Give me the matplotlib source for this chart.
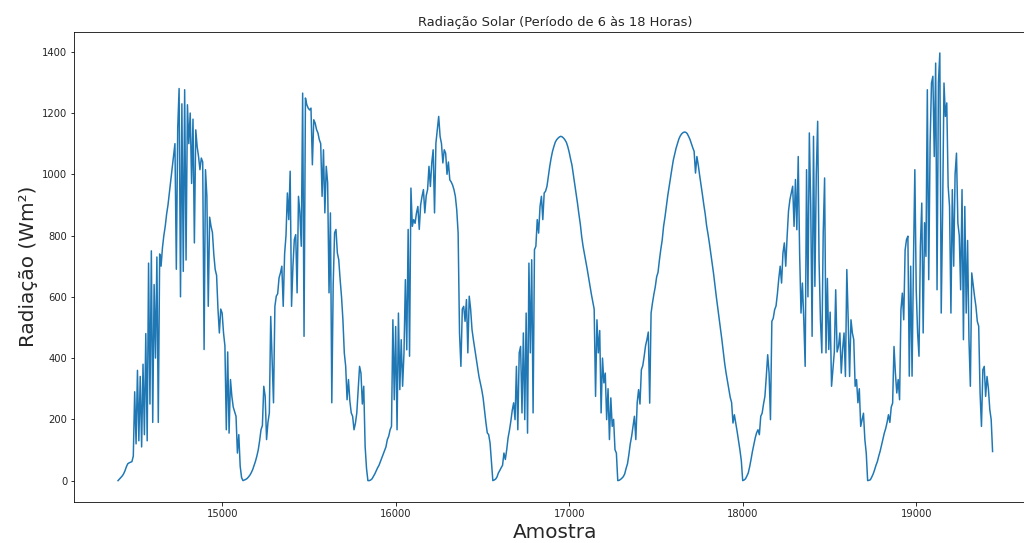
import numpy as np
import matplotlib
matplotlib.use("Agg")
import matplotlib.pyplot as plt

title = "Radiação Solar (Período de 6 às 18 Horas)"
xlabel = "Amostra"
ylabel = "Radiação (Wm²)"

sample_start = 14400
sample_step = 8

day1 = [0, 5, 10, 15, 22, 32, 45, 55, 58, 60, 62, 80,
        290, 120, 360, 130, 340, 110, 380, 150, 480, 130, 710, 250, 750, 190, 640, 400, 730, 190, 740, 700,
        760, 800, 830, 870, 900, 940, 980, 1020, 1060, 1100,
        690, 1150, 1280, 600, 1230, 683, 1276, 720, 1227, 1100, 1200, 970, 1180, 776, 1145, 1090, 1058, 1015,
        1053, 1040, 428, 1015, 928, 569, 860, 830, 810, 738, 689, 670, 560, 482, 560, 547, 482, 440, 166, 420,
        155, 330, 275, 240, 225, 210, 90, 150, 47, 10]
day2 = [0, 2, 4, 7, 12, 18, 26, 36, 50,
        63, 80, 100, 130, 166, 180, 308, 275, 134, 190,
        221, 536, 400, 254, 569, 602, 610, 662, 678, 700,
        569, 740, 800, 939, 852, 1010, 569, 700, 787, 803,
        613, 928, 874, 765, 1265, 471, 1249, 1227, 1216, 1210,
        1216, 1031, 1178, 1167, 1146, 1135, 1113, 1100, 928, 1080,
        874, 1026, 972, 613, 874, 254, 640, 809, 820, 743,
        721, 656, 600, 525, 417, 373, 264, 330, 260, 221,
        210, 166, 187, 221, 300, 373, 351, 250, 308, 112, 40]
day3 = [0, 0, 2, 6, 14, 22, 32, 42, 50, 62,
        74, 85, 98, 110, 134, 145, 166, 177, 525, 264,
        503, 166, 547, 297, 460, 308, 417, 656, 427, 820,
        406, 955, 830, 852, 840, 874, 895, 820, 900, 928,
        950, 874, 930, 950, 1026, 960, 1037, 1080, 874, 1102,
        1146, 1189, 1124, 1100, 1037, 1080, 1069, 1000, 1040, 982,
        975, 965, 950, 928, 884, 808, 482, 373, 560, 569,
        520, 591, 417, 602, 560, 493, 460, 430, 400, 370,
        340, 319, 297, 270, 230, 190, 156, 150, 123, 60]
day4 = [0, 2, 5, 12, 25, 33, 42, 50, 90, 69,
        101, 140, 165, 195, 230, 254, 199, 373, 166, 417,
        438, 221, 482, 199, 547, 155, 710, 417, 721, 221,
        754, 765, 852, 808, 895, 928, 852, 939, 945, 961,
        993, 1026, 1053, 1075, 1091, 1105, 1113, 1118, 1122, 1124,
        1122, 1118, 1112, 1104, 1090, 1072, 1050, 1030, 999, 968,
        935, 905, 870, 838, 797, 765, 740, 715, 690, 662,
        636, 608, 584, 560, 275, 525, 417, 490, 221, 400,
        319, 351, 199, 300, 134, 270, 177, 200, 101, 90]
day5 = [0, 1, 4, 8, 13, 22, 40, 55, 85, 120,
        145, 178, 210, 134, 255, 297, 250, 362, 375, 405,
        440, 460, 485, 253, 547, 580, 608, 632, 665, 680,
        720, 755, 785, 830, 860, 896, 930, 960, 990, 1018,
        1046, 1065, 1085, 1100, 1115, 1125, 1132, 1136, 1138, 1137,
        1133, 1124, 1114, 1100, 1087, 1075, 1004, 1058, 1030, 996,
        965, 933, 900, 870, 832, 805, 775, 742, 708, 676,
        637, 600, 565, 528, 495, 460, 420, 383, 352, 325,
        298, 272, 255, 188, 215, 188, 160, 130, 100, 65]
day6 = [0, 2, 6, 15, 25, 45, 69, 95, 117, 139,
        156, 166, 150, 210, 220, 250, 275, 340, 411, 351,
        199, 520, 530, 558, 570, 610, 660, 700, 645, 743,
        776, 700, 797, 880, 917, 939, 961, 830, 983, 819,
        1058, 743, 547, 645, 525, 373, 1015, 600, 1135, 900,
        471, 1124, 634, 1000, 1173, 720, 525, 417, 808, 988,
        417, 660, 428, 550, 308, 362, 420, 623, 420, 438,
        482, 351, 430, 482, 340, 689, 525, 340, 525, 482,
        460, 308, 330, 254, 300, 177, 199, 220, 134, 90]
day7 = [0, 1, 3, 12, 22, 35, 50, 62, 80, 96,
        115, 135, 155, 170, 190, 215, 190, 240, 253, 438,
        351, 286, 330, 264, 558, 612, 525, 753, 787, 798,
        341, 700, 341, 709, 1015, 623, 482, 406, 765, 906,
        482, 842, 732, 1276, 656, 1100, 1298, 1320, 1058, 1363,
        623, 1300, 1396, 547, 874, 1298, 1189, 1233, 961, 895,
        547, 950, 700, 1000, 1069, 841, 800, 623, 950, 460,
        895, 547, 784, 460, 308, 678, 640, 602, 569, 520,
        504, 286, 177, 362, 373, 275, 340, 300, 232, 199, 95]

radiacao = np.array(day1 + day2 + day3 + day4 + day5 + day6 + day7, dtype=float)
amostra = sample_start + sample_step * np.arange(len(radiacao))

fig = plt.figure(figsize=(1024 / 72, 543 / 72), dpi=72)
ax = fig.add_axes([74.3 / 1024, 41 / 543, 962 / 1024, 470.4 / 543])
ax.plot(amostra, radiacao, color="#1f77b4", linewidth=1.5)
ax.set_title(title, fontsize=13, color="#262626")
ax.set_xlabel(xlabel, fontsize=20, color="#262626")
ax.set_ylabel(ylabel, fontsize=20, color="#262626")
ax.tick_params(labelsize=10, labelcolor="#262626")

fig.savefig("out.png", dpi=72)
